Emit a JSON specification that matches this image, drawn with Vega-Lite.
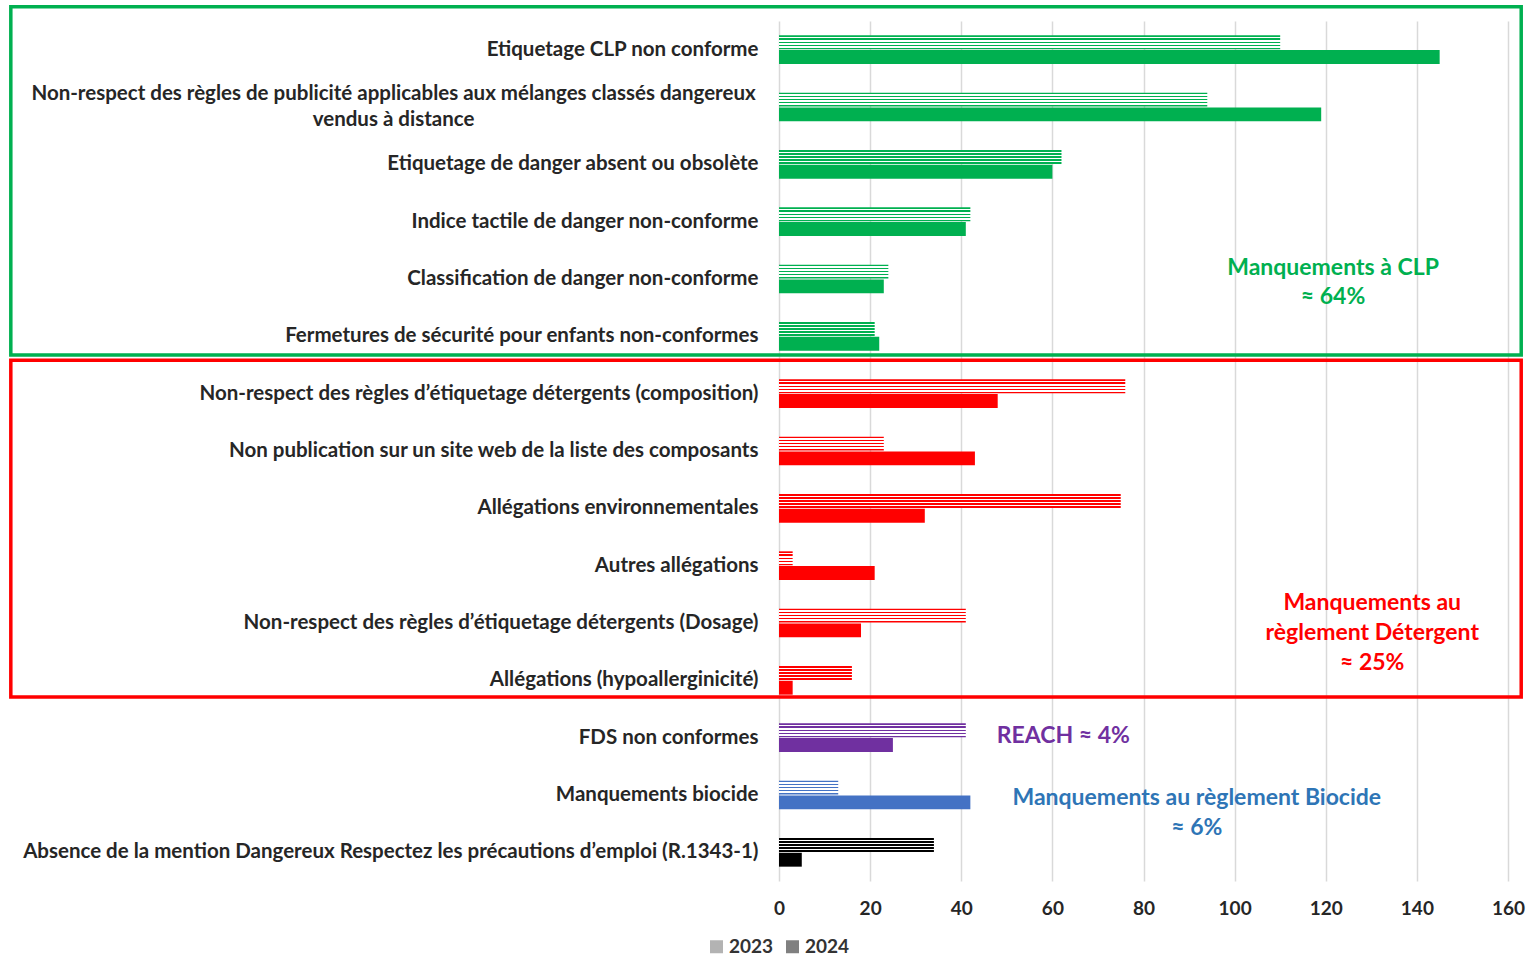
{
  "$schema": "https://vega.github.io/schema/vega-lite/v6.json",
  "width": 729,
  "height": 860,
  "autosize": "none",
  "padding": {"left": 779, "top": 21, "right": 23, "bottom": 75},
  "background": "white",
  "config": {"view": {"stroke": null}, "font": "Lato"},
  "data": {
    "values": [
      {"category": "Etiquetage CLP non conforme", "group": "CLP", "year": "2023", "value": 110},
      {"category": "Etiquetage CLP non conforme", "group": "CLP", "year": "2024", "value": 145},
      {"category": "Non-respect des règles de publicité applicables aux mélanges classés dangereux vendus à distance", "group": "CLP", "year": "2023", "value": 94},
      {"category": "Non-respect des règles de publicité applicables aux mélanges classés dangereux vendus à distance", "group": "CLP", "year": "2024", "value": 119},
      {"category": "Etiquetage de danger absent ou obsolète", "group": "CLP", "year": "2023", "value": 62},
      {"category": "Etiquetage de danger absent ou obsolète", "group": "CLP", "year": "2024", "value": 60},
      {"category": "Indice tactile de danger non-conforme", "group": "CLP", "year": "2023", "value": 42},
      {"category": "Indice tactile de danger non-conforme", "group": "CLP", "year": "2024", "value": 41},
      {"category": "Classification de danger non-conforme", "group": "CLP", "year": "2023", "value": 24},
      {"category": "Classification de danger non-conforme", "group": "CLP", "year": "2024", "value": 23},
      {"category": "Fermetures de sécurité pour enfants non-conformes", "group": "CLP", "year": "2023", "value": 21},
      {"category": "Fermetures de sécurité pour enfants non-conformes", "group": "CLP", "year": "2024", "value": 22},
      {"category": "Non-respect des règles d’étiquetage détergents (composition)", "group": "Détergent", "year": "2023", "value": 76},
      {"category": "Non-respect des règles d’étiquetage détergents (composition)", "group": "Détergent", "year": "2024", "value": 48},
      {"category": "Non publication sur un site web de la liste des composants", "group": "Détergent", "year": "2023", "value": 23},
      {"category": "Non publication sur un site web de la liste des composants", "group": "Détergent", "year": "2024", "value": 43},
      {"category": "Allégations environnementales", "group": "Détergent", "year": "2023", "value": 75},
      {"category": "Allégations environnementales", "group": "Détergent", "year": "2024", "value": 32},
      {"category": "Autres allégations", "group": "Détergent", "year": "2023", "value": 3},
      {"category": "Autres allégations", "group": "Détergent", "year": "2024", "value": 21},
      {"category": "Non-respect des règles d’étiquetage détergents (Dosage)", "group": "Détergent", "year": "2023", "value": 41},
      {"category": "Non-respect des règles d’étiquetage détergents (Dosage)", "group": "Détergent", "year": "2024", "value": 18},
      {"category": "Allégations (hypoallerginicité)", "group": "Détergent", "year": "2023", "value": 16},
      {"category": "Allégations (hypoallerginicité)", "group": "Détergent", "year": "2024", "value": 3},
      {"category": "FDS non conformes", "group": "REACH", "year": "2023", "value": 41},
      {"category": "FDS non conformes", "group": "REACH", "year": "2024", "value": 25},
      {"category": "Manquements biocide", "group": "Biocide", "year": "2023", "value": 13},
      {"category": "Manquements biocide", "group": "Biocide", "year": "2024", "value": 42},
      {"category": "Absence de la mention Dangereux Respectez les précautions d’emploi (R.1343-1)", "group": "Autre", "year": "2023", "value": 34},
      {"category": "Absence de la mention Dangereux Respectez les précautions d’emploi (R.1343-1)", "group": "Autre", "year": "2024", "value": 5}
    ]
  },
  "layer": [
    {
      "data": {"values": [{}]},
      "mark": {"type": "rect", "filled": false, "stroke": "#00B050", "strokeWidth": 3.5, "clip": false},
      "encoding": {
        "x": {"datum": -168.6, "type": "quantitative", "title": null},
        "x2": {"datum": 162.9},
        "y": {"datum": "Etiquetage CLP non conforme", "type": "nominal", "bandPosition": -1, "title": null},
        "y2": {"datum": "Fermetures de sécurité pour enfants non-conformes", "bandPosition": 1.15}
      }
    },
    {
      "data": {"values": [{}]},
      "mark": {"type": "rect", "filled": false, "stroke": "#FF0000", "strokeWidth": 3.5, "clip": false},
      "encoding": {
        "x": {"datum": -168.6, "type": "quantitative", "title": null},
        "x2": {"datum": 162.9},
        "y": {"datum": "Non-respect des règles d’étiquetage détergents (composition)", "type": "nominal", "bandPosition": -0.67, "title": null},
        "y2": {"datum": "Allégations (hypoallerginicité)", "bandPosition": 1.08}
      }
    },
    {
      "mark": {"type": "bar"},
      "encoding": {
        "y": {
          "field": "category", "type": "nominal", "title": null,
          "scale": {
            "domain": [
              "Etiquetage CLP non conforme",
              "Non-respect des règles de publicité applicables aux mélanges classés dangereux vendus à distance",
              "Etiquetage de danger absent ou obsolète",
              "Indice tactile de danger non-conforme",
              "Classification de danger non-conforme",
              "Fermetures de sécurité pour enfants non-conformes",
              "Non-respect des règles d’étiquetage détergents (composition)",
              "Non publication sur un site web de la liste des composants",
              "Allégations environnementales",
              "Autres allégations",
              "Non-respect des règles d’étiquetage détergents (Dosage)",
              "Allégations (hypoallerginicité)",
              "FDS non conformes",
              "Manquements biocide",
              "Absence de la mention Dangereux Respectez les précautions d’emploi (R.1343-1)"
            ],
            "paddingInner": 0.5,
            "paddingOuter": 0.25
          },
          "axis": {
            "domain": false,
            "ticks": false,
            "labelPadding": 21,
            "labelFontSize": 20.5,
            "labelFontWeight": "bold",
            "labelColor": "#262626",
            "labelFont": "Lato",
            "labelLimit": 900,
            "labelExpr": "datum.value == 'Non-respect des règles de publicité applicables aux mélanges classés dangereux vendus à distance' ? '' : datum.label"
          }
        },
        "x": {
          "field": "value", "type": "quantitative", "title": null,
          "scale": {"domain": [0, 160], "nice": false},
          "axis": {
            "values": [0, 20, 40, 60, 80, 100, 120, 140, 160],
            "domain": false,
            "ticks": false,
            "grid": true,
            "gridColor": "#d9d9d9",
            "gridWidth": 1.5,
            "labelFlush": false,
            "labelFontSize": 19,
            "labelFontWeight": "bold",
            "labelColor": "#262626",
            "labelFont": "Lato",
            "labelPadding": 18
          }
        },
        "yOffset": {"field": "year", "type": "nominal", "scale": {"paddingInner": 0.06}},
        "fill": {
          "condition": [
            {"test": "datum.year == '2023' && datum.group == 'CLP'", "value": {"gradient": "linear", "x1": 0, "y1": 0, "x2": 0, "y2": 1, "stops": [
              {"offset": 0, "color": "#00B050"}, {"offset": 0.111, "color": "#00B050"},
              {"offset": 0.111, "color": "#ffffff"}, {"offset": 0.222, "color": "#ffffff"},
              {"offset": 0.222, "color": "#00B050"}, {"offset": 0.333, "color": "#00B050"},
              {"offset": 0.333, "color": "#ffffff"}, {"offset": 0.444, "color": "#ffffff"},
              {"offset": 0.444, "color": "#00B050"}, {"offset": 0.556, "color": "#00B050"},
              {"offset": 0.556, "color": "#ffffff"}, {"offset": 0.667, "color": "#ffffff"},
              {"offset": 0.667, "color": "#00B050"}, {"offset": 0.778, "color": "#00B050"},
              {"offset": 0.778, "color": "#ffffff"}, {"offset": 0.889, "color": "#ffffff"},
              {"offset": 0.889, "color": "#00B050"}, {"offset": 1, "color": "#00B050"}]}},
            {"test": "datum.year == '2023' && datum.group == 'Détergent'", "value": {"gradient": "linear", "x1": 0, "y1": 0, "x2": 0, "y2": 1, "stops": [
              {"offset": 0, "color": "#FF0000"}, {"offset": 0.111, "color": "#FF0000"},
              {"offset": 0.111, "color": "#ffffff"}, {"offset": 0.222, "color": "#ffffff"},
              {"offset": 0.222, "color": "#FF0000"}, {"offset": 0.333, "color": "#FF0000"},
              {"offset": 0.333, "color": "#ffffff"}, {"offset": 0.444, "color": "#ffffff"},
              {"offset": 0.444, "color": "#FF0000"}, {"offset": 0.556, "color": "#FF0000"},
              {"offset": 0.556, "color": "#ffffff"}, {"offset": 0.667, "color": "#ffffff"},
              {"offset": 0.667, "color": "#FF0000"}, {"offset": 0.778, "color": "#FF0000"},
              {"offset": 0.778, "color": "#ffffff"}, {"offset": 0.889, "color": "#ffffff"},
              {"offset": 0.889, "color": "#FF0000"}, {"offset": 1, "color": "#FF0000"}]}},
            {"test": "datum.year == '2023' && datum.group == 'REACH'", "value": {"gradient": "linear", "x1": 0, "y1": 0, "x2": 0, "y2": 1, "stops": [
              {"offset": 0, "color": "#7030A0"}, {"offset": 0.111, "color": "#7030A0"},
              {"offset": 0.111, "color": "#ffffff"}, {"offset": 0.222, "color": "#ffffff"},
              {"offset": 0.222, "color": "#7030A0"}, {"offset": 0.333, "color": "#7030A0"},
              {"offset": 0.333, "color": "#ffffff"}, {"offset": 0.444, "color": "#ffffff"},
              {"offset": 0.444, "color": "#7030A0"}, {"offset": 0.556, "color": "#7030A0"},
              {"offset": 0.556, "color": "#ffffff"}, {"offset": 0.667, "color": "#ffffff"},
              {"offset": 0.667, "color": "#7030A0"}, {"offset": 0.778, "color": "#7030A0"},
              {"offset": 0.778, "color": "#ffffff"}, {"offset": 0.889, "color": "#ffffff"},
              {"offset": 0.889, "color": "#7030A0"}, {"offset": 1, "color": "#7030A0"}]}},
            {"test": "datum.year == '2023' && datum.group == 'Biocide'", "value": {"gradient": "linear", "x1": 0, "y1": 0, "x2": 0, "y2": 1, "stops": [
              {"offset": 0, "color": "#4472C4"}, {"offset": 0.111, "color": "#4472C4"},
              {"offset": 0.111, "color": "#ffffff"}, {"offset": 0.222, "color": "#ffffff"},
              {"offset": 0.222, "color": "#4472C4"}, {"offset": 0.333, "color": "#4472C4"},
              {"offset": 0.333, "color": "#ffffff"}, {"offset": 0.444, "color": "#ffffff"},
              {"offset": 0.444, "color": "#4472C4"}, {"offset": 0.556, "color": "#4472C4"},
              {"offset": 0.556, "color": "#ffffff"}, {"offset": 0.667, "color": "#ffffff"},
              {"offset": 0.667, "color": "#4472C4"}, {"offset": 0.778, "color": "#4472C4"},
              {"offset": 0.778, "color": "#ffffff"}, {"offset": 0.889, "color": "#ffffff"},
              {"offset": 0.889, "color": "#4472C4"}, {"offset": 1, "color": "#4472C4"}]}},
            {"test": "datum.year == '2023' && datum.group == 'Autre'", "value": {"gradient": "linear", "x1": 0, "y1": 0, "x2": 0, "y2": 1, "stops": [
              {"offset": 0, "color": "#000000"}, {"offset": 0.111, "color": "#000000"},
              {"offset": 0.111, "color": "#ffffff"}, {"offset": 0.222, "color": "#ffffff"},
              {"offset": 0.222, "color": "#000000"}, {"offset": 0.333, "color": "#000000"},
              {"offset": 0.333, "color": "#ffffff"}, {"offset": 0.444, "color": "#ffffff"},
              {"offset": 0.444, "color": "#000000"}, {"offset": 0.556, "color": "#000000"},
              {"offset": 0.556, "color": "#ffffff"}, {"offset": 0.667, "color": "#ffffff"},
              {"offset": 0.667, "color": "#000000"}, {"offset": 0.778, "color": "#000000"},
              {"offset": 0.778, "color": "#ffffff"}, {"offset": 0.889, "color": "#ffffff"},
              {"offset": 0.889, "color": "#000000"}, {"offset": 1, "color": "#000000"}]}}
          ],
          "field": "group",
          "type": "nominal",
          "scale": {"domain": ["CLP", "Détergent", "REACH", "Biocide", "Autre"], "range": ["#00B050", "#FF0000", "#7030A0", "#4472C4", "#000000"]},
          "legend": null
        }
      }
    },
    {
      "data": {"values": [{}]},
      "mark": {"type": "text", "text": ["Non-respect des règles de publicité applicables aux mélanges classés dangereux", "vendus à distance"], "color": "#262626", "font": "Lato", "fontSize": 20.5, "fontWeight": "bold", "align": "center", "baseline": "middle", "lineHeight": 26, "dy": -13},
      "encoding": {
        "x": {"datum": -84.6, "type": "quantitative"},
        "y": {"datum": "Non-respect des règles de publicité applicables aux mélanges classés dangereux vendus à distance", "type": "nominal"}
      }
    },
    {
      "mark": {"type": "text", "text": ""},
      "encoding": {
        "fill": {
          "field": "year",
          "type": "nominal",
          "scale": {"domain": ["2023", "2024"], "range": ["#b3b3b3", "#808080"]},
          "legend": {
            "title": null,
            "orient": "none",
            "legendX": -72,
            "legendY": 916,
            "direction": "horizontal",
            "symbolType": "square",
            "symbolSize": 169,
            "symbolStrokeWidth": 0,
            "labelFontSize": 19,
            "labelFontWeight": "bold",
            "labelColor": "#333333",
            "labelFont": "Lato",
            "labelOffset": 3,
            "columnPadding": 9,
            "padding": 0
          }
        }
      }
    },
    {
      "data": {"values": [{}]},
      "mark": {"type": "text", "text": ["Manquements à CLP", "≈ 64%"], "color": "#00B050", "font": "Lato", "fontSize": 23, "fontWeight": "bold", "align": "center", "baseline": "middle", "lineHeight": 29, "dy": -11},
      "encoding": {
        "x": {"datum": 121.6, "type": "quantitative"},
        "y": {"datum": "Classification de danger non-conforme", "type": "nominal"}
      }
    },
    {
      "data": {"values": [{}]},
      "mark": {"type": "text", "text": ["Manquements au", "règlement Détergent", "≈ 25%"], "color": "#FF0000", "font": "Lato", "fontSize": 23, "fontWeight": "bold", "align": "center", "baseline": "middle", "lineHeight": 30, "dy": -20},
      "encoding": {
        "x": {"datum": 130.2, "type": "quantitative"},
        "y": {"datum": "Non-respect des règles d’étiquetage détergents (Dosage)", "type": "nominal"}
      }
    },
    {
      "data": {"values": [{}]},
      "mark": {"type": "text", "text": "REACH ≈ 4%", "color": "#7030A0", "font": "Lato", "fontSize": 23, "fontWeight": "bold", "align": "left", "baseline": "middle", "dy": -2},
      "encoding": {
        "x": {"datum": 47.8, "type": "quantitative"},
        "y": {"datum": "FDS non conformes", "type": "nominal"}
      }
    },
    {
      "data": {"values": [{}]},
      "mark": {"type": "text", "text": ["Manquements au règlement Biocide", "≈ 6%"], "color": "#2E75B6", "font": "Lato", "fontSize": 23, "fontWeight": "bold", "align": "center", "baseline": "middle", "lineHeight": 30, "dy": 3},
      "encoding": {
        "x": {"datum": 91.7, "type": "quantitative"},
        "y": {"datum": "Manquements biocide", "type": "nominal"}
      }
    }
  ],
  "resolve": {"scale": {"fill": "independent"}}
}
